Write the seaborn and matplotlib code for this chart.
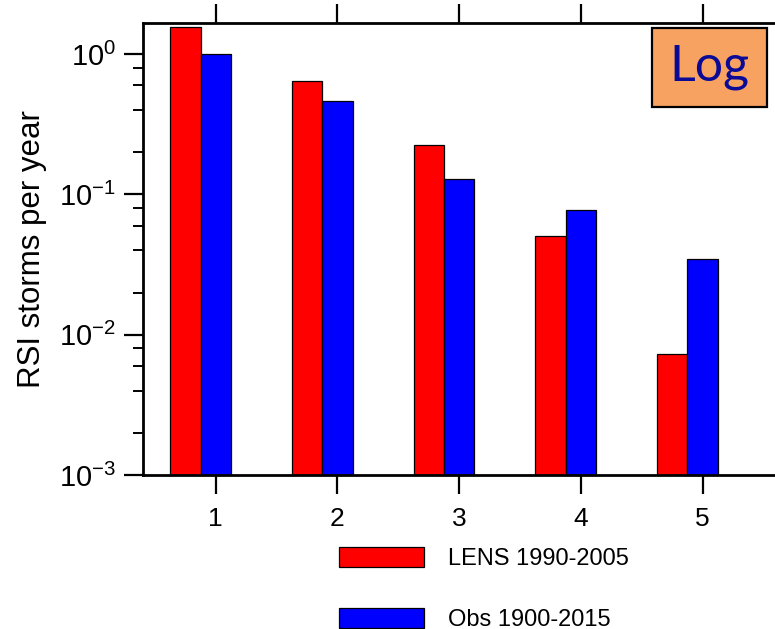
import matplotlib
matplotlib.use("Agg")
import matplotlib.pyplot as plt
from matplotlib.patches import Patch, Rectangle
from matplotlib.ticker import LogLocator, NullFormatter
import pandas as pd
import seaborn as sns

# Storm intensity categories
categories = [1, 2, 3, 4, 5]
# Annual storm counts per category
lens_values = [1.56, 0.648, 0.224, 0.0508, 0.00725]
obs_values = [1.0, 0.464, 0.128, 0.0771, 0.0345]
series_names = ["LENS 1990-2005", "Obs 1900-2015"]
series_colors = {"LENS 1990-2005": "#ff0000", "Obs 1900-2015": "#0000ff"}

df = pd.DataFrame({
    "category": [str(c) for c in categories] * 2,
    "value": lens_values + obs_values,
    "series": [series_names[0]] * len(categories) + [series_names[1]] * len(categories),
})

sns.set_style("ticks")
plt.rcParams["font.family"] = ["Liberation Sans", "DejaVu Sans"]
plt.rcParams["mathtext.fontset"] = "custom"
plt.rcParams["mathtext.rm"] = "Liberation Sans"
plt.rcParams["mathtext.it"] = "Liberation Sans"
for key in ["text.color", "axes.labelcolor", "xtick.color", "ytick.color",
            "axes.edgecolor"]:
    plt.rcParams[key] = "black"

W, H = 775, 629
fig = plt.figure(figsize=(W / 100, H / 100), dpi=100)
ax_left, ax_right, ax_top, ax_bottom = 142.7, 830.0, 23.0, 475.0
ax = fig.add_axes([ax_left / W, 1 - ax_bottom / H,
                   (ax_right - ax_left) / W, (ax_bottom - ax_top) / H])

sns.barplot(data=df, x="category", y="value", hue="series",
            palette=series_colors, width=0.5, errorbar=None,
            edgecolor="black", linewidth=0.9, saturation=1.0,
            legend=False, ax=ax)

ax.set_yscale("log")
ax.set_ylim(1e-3, 1.67)
ax.set_xlim(-0.475, 5.171)

# Category ticks sit under the second bar of each pair
ax.set_xticks([i + 0.125 for i in range(len(categories))])
ax.set_xticklabels([str(c) for c in categories])
ax.set_xlabel("")
ax.set_ylabel("RSI storms per year", fontsize=22.5, labelpad=9)

ax.yaxis.set_major_locator(LogLocator(base=10, numticks=10))
ax.yaxis.set_minor_locator(LogLocator(base=10, subs=[2, 4, 6, 8], numticks=20))
ax.yaxis.set_minor_formatter(NullFormatter())

ax.tick_params(axis="x", which="both", direction="out", top=True, bottom=True,
               length=14, width=1.6, labelsize=19, pad=9, color="black",
               labelcolor="black")
ax.tick_params(axis="y", which="major", direction="out", left=True, right=False,
               length=14, width=1.6, labelsize=21, pad=5, color="black",
               labelcolor="black")
ax.tick_params(axis="y", which="minor", direction="out", left=True, right=False,
               length=7, width=1.4, color="black")

for side in ["left", "top", "bottom"]:
    ax.spines[side].set_linewidth(2.0)
    ax.spines[side].set_color("black")
ax.spines["right"].set_visible(False)

# "Log" tag box
bx0, by0, bx1, by1 = 652, 28.3, 767, 106.7
fig.patches.append(Rectangle((bx0 / W, 1 - by1 / H), (bx1 - bx0) / W, (by1 - by0) / H,
                             transform=fig.transFigure, facecolor="#f8a262",
                             edgecolor="black", linewidth=1.6, zorder=5))
fig.text((bx0 + bx1) / 2 / W, 1 - (by0 + by1) / 2 / H, "Log",
         family=["Lato", "DejaVu Sans"], fontsize=36, color="#0a0a96",
         ha="center", va="center", zorder=6)

handles = [Patch(facecolor=series_colors[n], edgecolor="black", linewidth=0.9)
           for n in series_names]
fig.legend(handles, series_names, loc="upper left",
           bbox_to_anchor=(339 / W, 1 - 547 / H), frameon=False,
           borderpad=0, borderaxespad=0, handlelength=3.6, handleheight=0.93,
           handletextpad=1.0, labelspacing=1.6, fontsize=17)

fig.savefig("out.png", dpi=100)
